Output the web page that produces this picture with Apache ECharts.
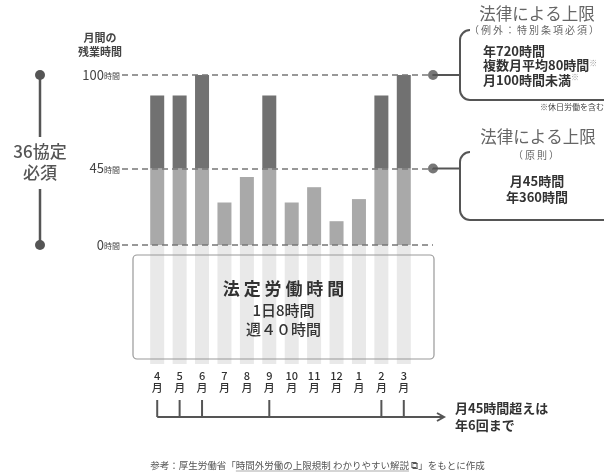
<!DOCTYPE html>
<html><head><meta charset="utf-8">
<script src="https://cdn.jsdelivr.net/npm/echarts@6/dist/echarts.min.js"></script>
<style>html,body{margin:0;padding:0;background:#fff}#c{width:604px;height:476px}</style>
</head><body><div id="c"></div>
<script>
const months = ['4','5','6','7','8','9','10','11','12','1','2','3'];
const overtime = [88, 88, 100, 25, 40, 88, 25, 34, 14, 27, 88, 100];
const tickValues = [0, 45, 100];
const limitValue = 45;
const capValue = 100;
const stripDepth = -70;

const FONT = '"Noto Sans CJK JP", "Noto Sans", sans-serif';
const chart = echarts.init(document.getElementById('c'), null, {renderer: 'canvas'});

const lower = overtime.map(v => Math.min(v, limitValue));
const upper = overtime.map(v => Math.max(v - limitValue, 0));
const strips = overtime.map(() => stripDepth);

chart.setOption({
  animation: false,
  textStyle: {fontFamily: FONT},
  grid: [
    {left: 146, width: 269, top: 75, height: 289},
    {left: 122, width: 311, top: 75, height: 289}
  ],
  xAxis: [
    {type: 'category', gridIndex: 0, data: months,
     axisLine: {show: false}, axisTick: {show: false},
     axisLabel: {margin: 6, interval: 0,
       formatter: m => '{n|' + m + '}\n{m|月}',
       rich: {n: {fontSize: 11, color: '#333', fontWeight: 500, lineHeight: 11, fontFamily: FONT},
              m: {fontSize: 11, color: '#333', fontWeight: 500, lineHeight: 13, fontFamily: FONT}}}},
    {type: 'value', gridIndex: 1, min: 0, max: 1, show: false}
  ],
  yAxis: [
    {type: 'value', gridIndex: 0, min: stripDepth, max: capValue, show: false},
    {type: 'value', gridIndex: 1, min: stripDepth, max: capValue, interval: 5,
     axisLine: {show: false}, axisTick: {show: false}, splitLine: {show: false},
     axisLabel: {margin: 2,
       formatter: v => tickValues.indexOf(v) >= 0 ? '{n|' + v + '}{u|時間}' : '',
       rich: {n: {fontSize: 13, color: '#444', fontFamily: FONT},
              u: {fontSize: 8, color: '#444', fontFamily: FONT, padding: [2, 0, 0, 0]}}}}
  ],
  series: [
    {type: 'bar', name: 'strip', xAxisIndex: 0, yAxisIndex: 0, stack: 's', barWidth: 14,
     data: strips, itemStyle: {color: '#e9e9e9'}, silent: true},
    {type: 'bar', name: 'lower', xAxisIndex: 0, yAxisIndex: 0, stack: 's', barWidth: 14,
     data: lower, itemStyle: {color: '#a9a9a9'}},
    {type: 'bar', name: 'upper', xAxisIndex: 0, yAxisIndex: 0, stack: 's', barWidth: 14,
     data: upper, itemStyle: {color: '#717171'}},
    {type: 'scatter', xAxisIndex: 1, yAxisIndex: 1, symbol: 'circle', symbolSize: 10,
     itemStyle: {color: '#555'}, z: 5,
     data: [[1, capValue], [1, limitValue]],
     markLine: {silent: true, symbol: 'none', label: {show: false},
       lineStyle: {type: [6, 4], width: 1.5, color: '#777'},
       data: tickValues.map(v => ({yAxis: v}))}}
  ]
});

// annotations positioned from the axes
const py = v => chart.convertToPixel({yAxisIndex: 1}, v);
const px = i => chart.convertToPixel({xAxisIndex: 0}, i);
const dotX = chart.convertToPixel({xAxisIndex: 1}, 1);
const y100 = py(capValue), y45 = py(limitValue), y0 = py(0);
const g = [];
const ink = '#555';

// left bracket: 36協定 必須
g.push({type: 'line', shape: {x1: 40, y1: y100, x2: 40, y2: y100 + 62}, style: {stroke: ink, lineWidth: 2.5}});
g.push({type: 'line', shape: {x1: 40, y1: y0 - 56, x2: 40, y2: y0}, style: {stroke: ink, lineWidth: 2.5}});
g.push({type: 'circle', shape: {cx: 40, cy: y100, r: 5}, style: {fill: ink}});
g.push({type: 'circle', shape: {cx: 40, cy: y0, r: 5}, style: {fill: ink}});
g.push({type: 'text', x: 40, y: (y100 + y0) / 2 + 2, style: {text: '36協定\n必須', font: '500 17px ' + FONT,
  fill: '#555', align: 'center', verticalAlign: 'middle', lineHeight: 21}});
// axis title
g.push({type: 'text', x: 100, y: 45, style: {text: '月間の\n残業時間', font: 'bold 11px ' + FONT,
  fill: '#444', align: 'center', verticalAlign: 'middle', lineHeight: 14}});

// central box
g.push({type: 'rect', shape: {x: 133, y: 255, width: 301, height: 104, r: 4},
  style: {fill: 'none', stroke: '#999', lineWidth: 1.2}});
g.push({type: 'text', x: 283.5, y: 289, style: {text: '法 定 労 働 時 間', font: 'bold 17px ' + FONT,
  fill: '#333', align: 'center', verticalAlign: 'middle'}});
g.push({type: 'text', x: 283.5, y: 310, style: {text: '1日8時間', font: '500 15px ' + FONT,
  fill: '#333', align: 'center', verticalAlign: 'middle'}});
g.push({type: 'text', x: 283.5, y: 329, style: {text: '週４０時間', font: '500 15px ' + FONT,
  fill: '#333', align: 'center', verticalAlign: 'middle'}});

// right brackets
function bracket(top, bottom) {
  const st = {fill: 'none', stroke: ink, lineWidth: 2};
  g.push({type: 'arc', shape: {cx: 470, cy: top + 10, r: 10, startAngle: Math.PI, endAngle: Math.PI * 1.5, clockwise: true}, style: st});
  g.push({type: 'line', shape: {x1: 460, y1: top + 10, x2: 460, y2: bottom - 10}, style: st});
  g.push({type: 'arc', shape: {cx: 470, cy: bottom - 10, r: 10, startAngle: Math.PI * 0.5, endAngle: Math.PI, clockwise: true}, style: st});
  g.push({type: 'line', shape: {x1: 470, y1: bottom, x2: 610, y2: bottom}, style: st});
}
bracket(30, 100);
bracket(152, 220);
g.push({type: 'line', shape: {x1: dotX, y1: y100, x2: 460, y2: y100}, style: {stroke: ink, lineWidth: 2}});
g.push({type: 'line', shape: {x1: dotX, y1: y45, x2: 460, y2: y45}, style: {stroke: ink, lineWidth: 2}});

const T = (x, y, text, font, fill, align) => g.push({type: 'text', x: x, y: y,
  style: {text: text, font: font + ' ' + FONT, fill: fill, align: align || 'center', verticalAlign: 'middle'}});
const spaced = s => s.split('').join('\u2009');
T(537, 14, '法律による上限', '16.5px', '#666');
T(534, 30, spaced('（例外：特別条項必須）'), '10px', '#666');
T(483, 51, '年720時間', 'bold 13px', '#333', 'left');
g.push({type: 'text', x: 483, y: 65.5, style: {text: '{a|複数月平均80時間}{b|※}', verticalAlign: 'middle', align: 'left',
  rich: {a: {font: 'bold 13px ' + FONT, fill: '#333'}, b: {font: '8px ' + FONT, fill: '#999', padding: [0, 0, 6, 0]}}}});
g.push({type: 'text', x: 483, y: 80, style: {text: '{a|月100時間未満}{b|※}', verticalAlign: 'middle', align: 'left',
  rich: {a: {font: 'bold 13px ' + FONT, fill: '#333'}, b: {font: '8px ' + FONT, fill: '#999', padding: [0, 0, 6, 0]}}}});
T(604, 107, '※休日労働を含む', '8px', '#444', 'right');
T(538, 137, '法律による上限', '16.5px', '#666');
T(536, 155, spaced('（原則）'), '10px', '#666');
T(537, 181, '月45時間', 'bold 13px', '#333');
T(537, 197, '年360時間', 'bold 13px', '#333');

// timeline of months over the limit
const flagged = overtime.map((v, i) => v > limitValue ? i : -1).filter(i => i >= 0);
const lineY = 417;
g.push({type: 'line', shape: {x1: px(flagged[0]), y1: lineY, x2: 443, y2: lineY}, style: {stroke: ink, lineWidth: 2}});
g.push({type: 'polyline', shape: {points: [[437, lineY - 4], [444, lineY], [437, lineY + 4]]}, style: {stroke: ink, fill: 'none', lineWidth: 2}});
flagged.forEach(i => g.push({type: 'line', shape: {x1: px(i), y1: 400, x2: px(i), y2: lineY}, style: {stroke: ink, lineWidth: 2}}));
T(455, 408, '月45時間超えは', 'bold 13px', '#333', 'left');
T(455, 425, '年6回まで', 'bold 13px', '#333', 'left');

// source caption with underlined link part
const capFont = '9.5px ' + FONT;
const capPre = '参考：厚生労働省「', capLink = '時間外労働の上限規制 わかりやすい解説', capPost = ' ⧉」をもとに作成';
const ctx = document.createElement('canvas').getContext('2d');
ctx.font = capFont;
const wPre = ctx.measureText(capPre).width, wLink = ctx.measureText(capLink).width;
const wAll = ctx.measureText(capPre + capLink + capPost).width;
const capX0 = 317.5 - wAll / 2;
g.push({type: 'text', x: capX0, y: 465, style: {text: capPre + capLink + capPost,
  font: capFont, fill: '#555', align: 'left', verticalAlign: 'middle'}});
g.push({type: 'line', shape: {x1: capX0 + wPre, y1: 471, x2: capX0 + wPre + wLink, y2: 471}, style: {stroke: '#888', lineWidth: 0.7}});

g.forEach(e => { e.z = 100; });
chart.setOption({graphic: g});
</script>
</body></html>
